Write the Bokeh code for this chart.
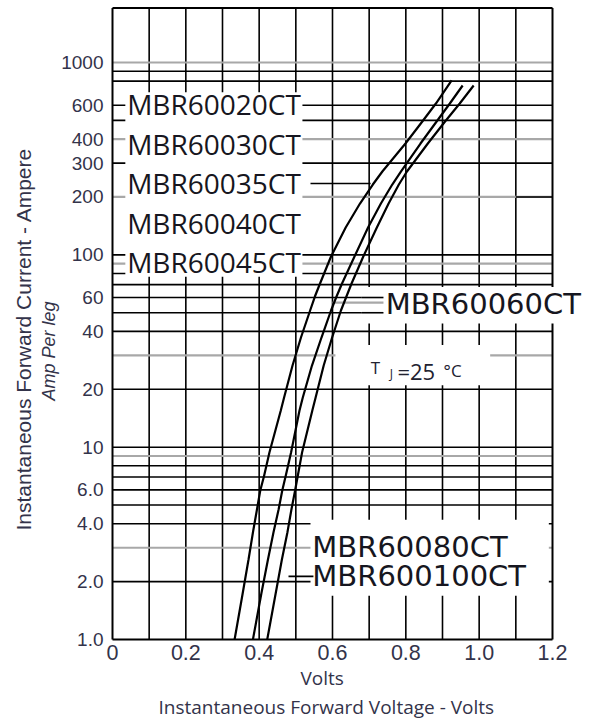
import numpy as np
from bokeh.plotting import figure
from bokeh.models import Range1d, FixedTicker, Title
from bokeh.embed import file_html
from bokeh.resources import INLINE
from bokeh.core.properties import value

# ---------------- data (log-calibrated 1..1000 A) ----------------
current_20_45 = [1.000, 1.735, 2.606, 3.600, 4.743, 5.953, 7.039, 9.382, 15.51, 18.13, 26.58, 37.17,
                 51.36, 60.72, 70.96, 98.0, 138.8, 184.9, 232.1, 271.3, 379.2, 493.5, 612.2, 806.5]
volt_20_45 = [0.333, 0.355, 0.371, 0.383, 0.394, 0.403, 0.413, 0.428, 0.459, 0.468, 0.491, 0.514,
              0.539, 0.552, 0.566, 0.596, 0.636, 0.675, 0.710, 0.736, 0.799, 0.845, 0.882, 0.925]

current_60 = [1.000, 1.735, 2.606, 3.600, 4.743, 5.953, 7.039, 9.382, 15.51, 18.13, 26.58, 37.17,
              51.36, 60.72, 70.96, 98.0, 138.8, 184.9, 232.1, 271.3, 379.2, 493.5, 612.2, 759.5]
volt_60 = [0.383, 0.406, 0.424, 0.439, 0.453, 0.463, 0.472, 0.487, 0.510, 0.519, 0.544, 0.570,
           0.596, 0.611, 0.626, 0.660, 0.697, 0.732, 0.763, 0.787, 0.840, 0.884, 0.920, 0.955]

current_80_100 = [1.000, 1.735, 2.606, 3.600, 4.743, 5.953, 7.039, 9.382, 15.51, 18.13, 26.58, 37.17,
                  51.36, 60.72, 70.96, 98.0, 138.8, 184.9, 232.1, 271.3, 379.2, 493.5, 612.2, 759.5]
volt_80_100 = [0.422, 0.445, 0.462, 0.477, 0.488, 0.498, 0.505, 0.517, 0.545, 0.554, 0.576, 0.599,
               0.623, 0.638, 0.652, 0.684, 0.721, 0.753, 0.781, 0.803, 0.860, 0.907, 0.947, 0.985]

x_ticks = [0, 0.2, 0.4, 0.6, 0.8, 1.0, 1.2]
x_tick_labels = ["0", "0.2", "0.4", "0.6", "0.8", "1.0", "1.2"]
y_ticks = [1, 2, 4, 6, 10, 20, 40, 60, 100, 200, 300, 400, 600, 1000]
y_tick_labels = ["1.0", "2.0", "4.0", "6.0", "10", "20", "40", "60", "100", "200", "300", "400", "600", "1000"]

v_grid = [0.1, 0.2, 0.3, 0.4, 0.5, 0.6, 0.7, 0.8, 0.9, 1.0, 1.1]
h_grid_black = [2, 4, 5, 6, 7, 8, 10, 20, 40, 50, 60, 70, 80, 100, 300, 500, 600, 800, 900]
h_grid_gray = [3, 9, 30, 90, 200, 400, 1000]

labels_group1 = ["MBR60020CT", "MBR60030CT", "MBR60035CT", "MBR60040CT", "MBR60045CT"]
label_60 = "MBR60060CT"
labels_group3 = ["MBR60080CT", "MBR600100CT"]

# ---------------- figure ----------------
X0, X1 = 0.0, 1.2
Y0, Y1 = 1.0, 1920.0
INK = "#161620"
AXC = "#33334a"

p = figure(width=592, height=719,
           x_range=Range1d(-0.0109, 1.3091), y_range=Range1d(0.9764, 2003),
           y_axis_type="log", output_backend="svg", toolbar_location=None,
           min_border_left=108, min_border_right=0, min_border_top=4, min_border_bottom=78)
p.outline_line_color = None
p.xgrid.grid_line_color = None
p.ygrid.grid_line_color = None
p.background_fill_color = "white"

for ax in (p.xaxis[0], p.yaxis[0]):
    ax.axis_line_color = None
    ax.major_tick_line_color = None
    ax.minor_tick_line_color = None
    ax.major_tick_out = 0
    ax.major_tick_in = 0
    ax.minor_tick_out = 0
    ax.axis_label_standoff = 0
    ax.major_label_text_font = "Liberation Sans"
    ax.major_label_text_color = AXC

p.xaxis.ticker = FixedTicker(ticks=x_ticks)
p.xaxis.major_label_overrides = {t: l for t, l in zip(x_ticks, x_tick_labels)}
p.xaxis.major_label_text_font_size = "21.5px"
p.xaxis.major_label_standoff = 3

p.yaxis.ticker = FixedTicker(ticks=y_ticks, minor_ticks=[])
p.yaxis.major_label_overrides = {t: l for t, l in zip(y_ticks, y_tick_labels)}
p.yaxis.major_label_text_font_size = "19px"
p.yaxis.major_label_standoff = 5

# grid
n = len(v_grid)
p.segment(x0=v_grid, y0=[Y0] * n, x1=v_grid, y1=[Y1] * n, line_color="black", line_width=1.6)
p.segment(x0=[X0] * len(h_grid_black), y0=h_grid_black, x1=[X1] * len(h_grid_black), y1=h_grid_black,
          line_color="black", line_width=1.6)
p.segment(x0=[X0] * len(h_grid_gray), y0=h_grid_gray, x1=[X1] * len(h_grid_gray), y1=h_grid_gray,
          line_color="#a8a8a8", line_width=2.2)
p.segment(x0=[1.1], y0=[200], x1=[1.2], y1=[200], line_color="black", line_width=1.6)

# border
p.segment(x0=[X0, X1, X0, X0], y0=[Y0, Y0, Y0, Y1], x1=[X0, X1, X1, X1], y1=[Y1, Y1, Y0, Y1],
          line_color="black", line_width=2)

# white boxes behind labels
p.quad(left=[0.035, 0.68, 0.608, 0.54], right=[0.518, 1.32, 1.03, 1.19],
       bottom=[77, 44, 21, 1.69], top=[700, 68, 34, 4.2],
       fill_color="white", line_color=None)

# leader lines / stubs
p.segment(x0=[0.68, 0.68, 0.54, 0.48], y0=[60, 50, 235, 2.13],
          x1=[0.739, 0.739, 0.704, 0.548], y1=[60, 50, 235, 2.13],
          line_color="black", line_width=1.6)
p.segment(x0=[0.6], y0=[56.5], x1=[0.739], y1=[56.5], line_color="#a8a8a8", line_width=2.2)

# curves
p.line(volt_20_45, current_20_45, line_color="black", line_width=2.2)
p.line(volt_60, current_60, line_color="black", line_width=2.2)
p.line(volt_80_100, current_80_100, line_color="black", line_width=2.2)

# labels
p.text(x=[0.04] * 5, y=[612, 379, 235, 147, 91.3], text=labels_group1,
       text_font=value("Open Sans"), text_font_size="28px", text_baseline="middle",
       text_align="left", text_color=INK)
p.text(x=[0.745], y=[55.5], text=[label_60],
       text_font=value("DejaVu Sans"), text_font_size="29px", text_baseline="middle",
       text_align="left", text_color=INK)
p.text(x=[0.545, 0.545], y=[3.04, 2.13], text=labels_group3,
       text_font=value("DejaVu Sans"), text_font_size="29px", text_baseline="middle",
       text_align="left", text_color=INK)

# T_J = 25 C
p.text(x=[0.704], y=[26.0], text=["T"], text_font=value("Open Sans"), text_font_size="17px",
       text_baseline="middle", text_align="left", text_color="#222230")
p.text(x=[0.756], y=[24.3], text=["J"], text_font=value("Open Sans"), text_font_size="12px",
       text_baseline="middle", text_align="left", text_color="#222230")
p.text(x=[0.777], y=[25], text=["=25"], text_font=value("Open Sans"), text_font_size="22px",
       text_baseline="middle", text_align="left", text_color="#222230")
p.text(x=[0.903], y=[25], text=["°C"], text_font=value("Open Sans"), text_font_size="17px",
       text_baseline="middle", text_align="left", text_color="#222230")

# axis titles
t_amp = Title(text="Amp  Per leg", align="left", offset=241, standoff=0,
              text_font="Liberation Sans", text_font_style="italic",
              text_font_size="18px", text_color=AXC)
t_cur = Title(text="Instantaneous Forward Current - Ampere", align="left", offset=111, standoff=3,
              text_font="Liberation Sans", text_font_style="normal",
              text_font_size="21px", text_color=AXC)
p.add_layout(t_amp, "left")
p.add_layout(t_cur, "left")

t_volts = Title(text="Volts", align="left", offset=192, standoff=1,
                text_font="Open Sans", text_font_style="normal", text_font_size="19px", text_color=AXC)
t_inst = Title(text="Instantaneous  Forward  Voltage - Volts", align="left", offset=50, standoff=0,
               text_font="Open Sans", text_font_style="normal", text_font_size="19px", text_color=AXC)
p.add_layout(t_volts, "below")
p.add_layout(t_inst, "below")

open("out.html", "w").write(file_html(p, INLINE))
